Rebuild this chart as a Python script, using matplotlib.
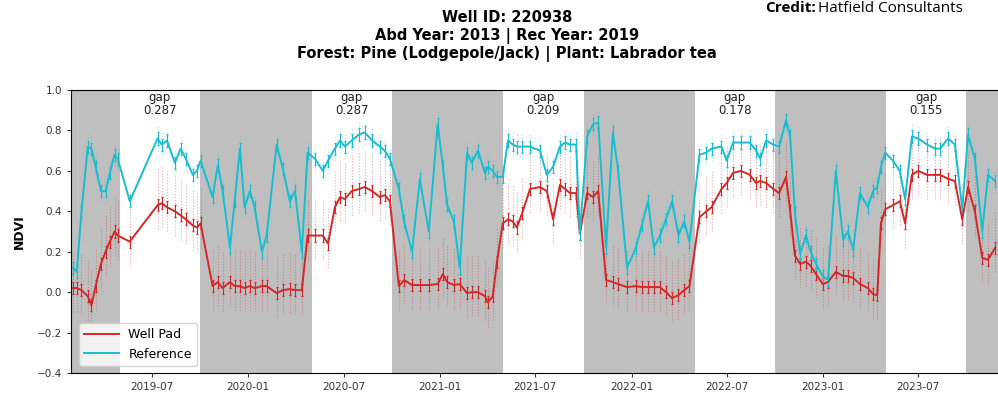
import numpy as np
import pandas as pd
import matplotlib
matplotlib.use("Agg")
import matplotlib.pyplot as plt
import matplotlib.dates as mdates

dates = [
    "2019-02-01", "2019-02-08", "2019-02-17", "2019-03-01", "2019-03-08", "2019-03-16",
    "2019-03-26", "2019-04-04", "2019-04-12", "2019-04-21", "2019-04-27", "2019-05-20",
    "2019-07-12", "2019-07-20", "2019-07-30", "2019-08-14", "2019-08-25", "2019-09-04",
    "2019-09-17", "2019-09-25", "2019-10-02", "2019-10-25", "2019-11-04", "2019-11-13",
    "2019-11-27", "2019-12-06", "2019-12-16", "2019-12-25", "2020-01-04", "2020-01-13",
    "2020-01-27", "2020-02-05", "2020-02-24", "2020-03-07", "2020-03-20", "2020-03-30",
    "2020-04-12", "2020-04-23", "2020-05-07", "2020-05-22", "2020-06-01", "2020-06-14",
    "2020-06-24", "2020-07-03", "2020-07-16", "2020-07-30", "2020-08-10", "2020-08-24",
    "2020-09-08", "2020-09-17", "2020-09-27", "2020-10-14", "2020-10-24", "2020-11-08",
    "2020-11-23", "2020-12-10", "2020-12-27", "2021-01-06", "2021-01-14", "2021-01-27",
    "2021-02-07", "2021-02-21", "2021-03-02", "2021-03-14", "2021-03-27", "2021-04-02",
    "2021-04-11", "2021-04-19", "2021-04-30", "2021-05-10", "2021-05-19", "2021-05-27",
    "2021-06-06", "2021-06-21", "2021-07-10", "2021-07-23", "2021-08-04", "2021-08-17",
    "2021-08-27", "2021-09-05", "2021-09-17", "2021-09-24", "2021-10-08", "2021-10-19",
    "2021-10-29", "2021-11-13", "2021-11-26", "2021-12-06", "2021-12-23", "2022-01-09",
    "2022-01-20", "2022-02-01", "2022-02-12", "2022-02-24", "2022-03-07", "2022-03-19",
    "2022-03-31", "2022-04-11", "2022-04-21", "2022-05-10", "2022-05-23", "2022-06-02",
    "2022-06-21", "2022-07-01", "2022-07-13", "2022-07-28", "2022-08-14", "2022-08-26",
    "2022-09-03", "2022-09-14", "2022-09-28", "2022-10-09", "2022-10-22", "2022-10-30",
    "2022-11-08", "2022-11-18", "2022-11-29", "2022-12-08", "2022-12-18", "2022-12-31",
    "2023-01-10", "2023-01-25", "2023-02-08", "2023-02-17", "2023-02-27", "2023-03-12",
    "2023-03-27", "2023-04-06", "2023-04-14", "2023-04-21", "2023-04-29", "2023-05-14",
    "2023-05-27", "2023-06-06", "2023-06-19", "2023-07-01", "2023-07-18", "2023-08-02",
    "2023-08-12", "2023-08-27", "2023-09-09", "2023-09-23", "2023-10-04", "2023-10-17",
    "2023-10-31", "2023-11-11", "2023-11-25",
]

reference = [
    0.12, 0.10, 0.40, 0.72, 0.71, 0.62,
    0.50, 0.50, 0.59, 0.68, 0.66, 0.45,
    0.76, 0.73, 0.75, 0.64, 0.71, 0.66,
    0.58, 0.60, 0.65, 0.47, 0.63, 0.50,
    0.22, 0.45, 0.71, 0.42, 0.50, 0.42,
    0.20, 0.28, 0.73, 0.61, 0.45, 0.50,
    0.20, 0.69, 0.66, 0.60, 0.65, 0.71,
    0.75, 0.72, 0.75, 0.78, 0.79, 0.75,
    0.72, 0.70, 0.66, 0.51, 0.35, 0.20,
    0.56, 0.30, 0.83, 0.62, 0.43, 0.35,
    0.12, 0.69, 0.64, 0.70, 0.59, 0.62,
    0.60, 0.57, 0.57, 0.75, 0.73, 0.72,
    0.72, 0.72, 0.70, 0.58, 0.62, 0.72,
    0.74, 0.73, 0.73, 0.29, 0.77, 0.83,
    0.84, 0.22, 0.79, 0.60, 0.12, 0.22,
    0.33, 0.45, 0.22, 0.28, 0.36, 0.45,
    0.28, 0.35, 0.25, 0.68, 0.69, 0.71,
    0.72, 0.65, 0.74, 0.74, 0.74, 0.70,
    0.66, 0.75, 0.73, 0.72, 0.85, 0.77,
    0.39, 0.19, 0.28, 0.20, 0.14, 0.08,
    0.06, 0.60, 0.26, 0.30, 0.21, 0.49,
    0.42, 0.50, 0.52, 0.62, 0.69, 0.65,
    0.60, 0.46, 0.77, 0.76, 0.73, 0.71,
    0.71, 0.76, 0.73, 0.41, 0.78, 0.66,
    0.30, 0.58, 0.55,
]

well_pad = [
    0.02, 0.02, 0.01, -0.02, -0.065, 0.03,
    0.14, 0.20, 0.25, 0.30, 0.28, 0.25,
    0.43, 0.44, 0.42, 0.40, 0.38, 0.36,
    0.33, 0.32, 0.34, 0.03, 0.05, 0.02,
    0.05, 0.03, 0.03, 0.02, 0.03, 0.02,
    0.03, 0.03, -0.005, 0.01, 0.015, 0.01,
    0.01, 0.28, 0.28, 0.28, 0.24, 0.42,
    0.47, 0.46, 0.50, 0.51, 0.52, 0.50,
    0.47, 0.48, 0.45, 0.03, 0.06, 0.035,
    0.035, 0.035, 0.04, 0.09, 0.05, 0.035,
    0.04, -0.005, 0.0, 0.0, -0.02, -0.05,
    -0.02, 0.15, 0.34, 0.36, 0.35, 0.32,
    0.39, 0.51, 0.52, 0.50, 0.36, 0.53,
    0.51, 0.49, 0.49, 0.29, 0.49, 0.47,
    0.50, 0.06, 0.05, 0.04, 0.025, 0.03,
    0.025, 0.025, 0.025, 0.025, 0.0, -0.03,
    -0.015, 0.01, 0.03, 0.37, 0.40, 0.42,
    0.51, 0.54, 0.59, 0.60, 0.58, 0.54,
    0.55, 0.54, 0.51, 0.49, 0.57, 0.40,
    0.18, 0.14, 0.15, 0.13, 0.09, 0.04,
    0.05, 0.10, 0.08, 0.08, 0.07, 0.04,
    0.02, -0.01, -0.015, 0.34, 0.41, 0.43,
    0.45, 0.34, 0.58, 0.60, 0.58, 0.58,
    0.58, 0.56, 0.55, 0.36, 0.52, 0.40,
    0.17, 0.16, 0.22,
]

seasons = [2019, 2020, 2021, 2022, 2023]
gaps = [0.287, 0.287, 0.209, 0.178, 0.155]

t = pd.to_datetime(dates)
ref = np.array(reference)
pad = np.array(well_pad)

red = "#d62728"
cyan = "#17becf"

fig = plt.figure(figsize=(9.98, 3.93), dpi=100)
ax = fig.add_axes([71 / 998, 1 - 373 / 393, (1010 - 71) / 998, (373 - 90) / 393])

x0 = pd.Timestamp("2019-01-28")
x1 = pd.Timestamp("2023-12-23")

# non-growing season shading
ax.axvspan(x0, pd.Timestamp("2019-05-01"), color="grey", alpha=0.5, lw=0, zorder=0)
for yr in seasons:
    end = pd.Timestamp(f"{yr + 1}-05-01") if yr < 2023 else x1
    ax.axvspan(pd.Timestamp(f"{yr}-10-01"), end, color="grey", alpha=0.5, lw=0, zorder=0)

# pixel spread (faint dotted streaks)
ax.vlines(t, pad - 0.12, pad + 0.18, colors=red, linestyles=":", lw=0.8, alpha=0.4, zorder=1)
ax.vlines(t, ref - 0.06, ref + 0.06, colors=cyan, linestyles=":", lw=0.8, alpha=0.35, zorder=1)

ax.errorbar(t, pad, yerr=0.03, fmt="none", ecolor=red, elinewidth=0.8, capsize=1.0, zorder=2)
ax.errorbar(t, ref, yerr=0.03, fmt="none", ecolor=cyan, elinewidth=0.8, capsize=1.0, zorder=2)
ax.plot(t, pad, color=red, lw=1.4, label="Well Pad", zorder=3)
ax.plot(t, ref, color=cyan, lw=1.4, label="Reference", zorder=3)

for yr, g in zip(seasons, gaps):
    mid = pd.Timestamp(f"{yr}-05-01") + (pd.Timestamp(f"{yr}-10-01") - pd.Timestamp(f"{yr}-05-01")) / 2
    ax.text(mid, 0.93, f"gap\n{g:.3f}", ha="center", va="center", fontsize=8.5,
            linespacing=0.95, color="#222222")

ax.set_xlim(x0, x1)
ax.set_ylim(-0.4, 1.0)
ax.xaxis.set_major_locator(mdates.MonthLocator(bymonth=[1, 7]))
ax.xaxis.set_major_formatter(mdates.DateFormatter("%Y-%m"))
ax.tick_params(labelsize=7.5, colors="#333333", length=3)
ax.set_ylabel("NDVI", fontsize=9, fontweight="bold", labelpad=8)

leg = ax.legend(loc="lower left", fontsize=9, handlelength=2.8, borderaxespad=0.6)

fig.text(0.508, 1 - 10 / 393,
         "Well ID: 220938\nAbd Year: 2013 | Rec Year: 2019\nForest: Pine (Lodgepole/Jack) | Plant: Labrador tea",
         ha="center", va="top", fontsize=10.5, fontweight="bold", linespacing=1.22)

fig.text(765 / 998, 1 - 12 / 393, "Credit:", family="Open Sans", fontweight="bold",
         fontsize=11, ha="left", va="baseline")
fig.text(818 / 998, 1 - 12 / 393, "Hatfield Consultants", family="Open Sans",
         fontsize=11, ha="left", va="baseline")

fig.savefig("out.png", dpi=100)
